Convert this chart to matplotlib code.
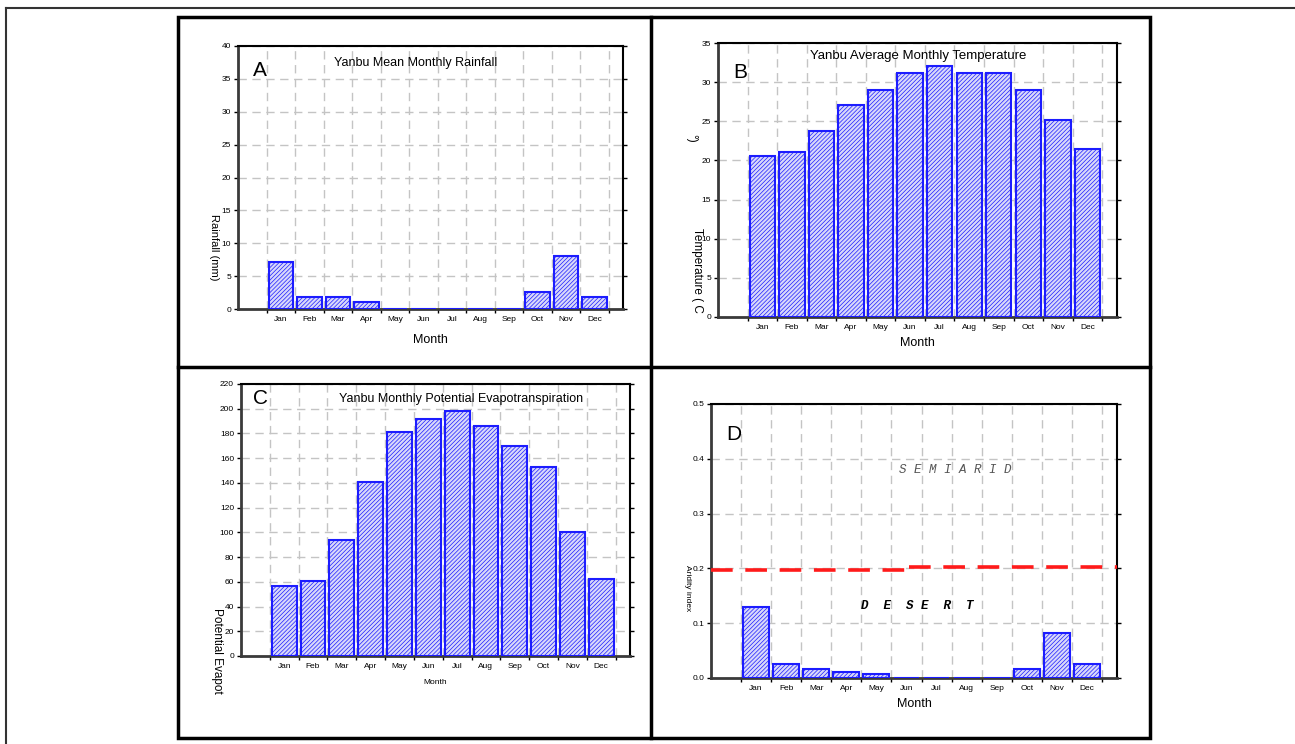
import matplotlib
matplotlib.use("Agg")
import matplotlib.pyplot as plt
from matplotlib.lines import Line2D
from matplotlib.patches import Rectangle
import numpy as np

plt.rcParams['font.family'] = ['Liberation Sans', 'DejaVu Sans']
plt.rcParams['hatch.color'] = '#5a5af0'
plt.rcParams['hatch.linewidth'] = 0.5

months = ["Jan", "Feb", "Mar", "Apr", "May", "Jun", "Jul", "Aug", "Sep", "Oct", "Nov", "Dec"]
rainfall = [7.1, 1.9, 1.9, 1.0, 0, 0, 0, 0, 0, 2.6, 8.1, 1.9]
temperature = [20.6, 21.1, 23.7, 27.1, 29.0, 31.2, 32.0, 31.2, 31.2, 29.0, 25.2, 21.5]
pet = [57, 60.5, 93.5, 141, 181.5, 191.5, 198, 186, 170, 153, 100, 62.5]
aridity = [0.130, 0.026, 0.016, 0.011, 0.007, 0, 0, 0, 0, 0.016, 0.082, 0.026]
limit_left, limit_right = 0.197, 0.202

W, H = 1295, 744
fig = plt.figure(figsize=(W / 100, H / 100), dpi=100)
fig.patch.set_facecolor('white')


def fx(x):
    return x / W


def fy(y):
    return 1 - y / H


def make_axes(l, t, r, b):
    return fig.add_axes([fx(l), fy(b), fx(r) - fx(l), fy(t) - fy(b)])


BAR_FACE = '#d8d8fa'
BAR_EDGE = '#1c1cff'
GRID = '#c4c4c4'


def style(ax, values, ymax, ystep, fmt, tick_fs=6):
    x = np.arange(len(values)) + 0.5
    ax.bar(x, values, width=0.86, facecolor=BAR_FACE, edgecolor=BAR_EDGE,
           linewidth=1.5, hatch='////////', zorder=3)
    ax.set_xlim(-1, 12.5)
    ax.set_ylim(0, ymax)
    ax.set_xticks(x)
    ax.set_xticklabels(months, fontsize=tick_fs)
    ax.set_xticks(np.arange(0, 13), minor=True)
    ax.tick_params(axis='x', which='major', length=0, pad=5)
    ax.tick_params(axis='x', which='minor', length=3, direction='out', width=1)
    yt = np.arange(0, ymax + ystep / 2, ystep)
    ax.set_yticks(yt)
    ax.set_yticklabels([fmt.format(v) for v in yt], fontsize=tick_fs)
    ax.tick_params(axis='y', length=3, width=1, direction='out', right=True, pad=2)
    ax.grid(True, which='minor', axis='x', color=GRID, linestyle=(0, (6, 4)), linewidth=1, zorder=0)
    ax.grid(True, which='major', axis='y', color=GRID, linestyle=(0, (6, 4)), linewidth=1, zorder=0)
    ax.grid(False, which='major', axis='x')
    for s in ['top', 'right']:
        ax.spines[s].set_color('black')
        ax.spines[s].set_linewidth(1.5)
    for s in ['left', 'bottom']:
        ax.spines[s].set_color('#3a3a3a')
        ax.spines[s].set_linewidth(2)
    ax.set_axisbelow(True)


# Panel A
axA = make_axes(238, 46, 623, 309)
style(axA, rainfall, 40, 5, "{:.0f}")
fig.text(fx(260), fy(70), "A", fontsize=15, ha='center', va='center')
fig.text(fx(416), fy(63), "Yanbu Mean Monthly Rainfall", fontsize=9, ha='center', va='center')
fig.text(fx(430), fy(340), "Month", fontsize=9, ha='center', va='center')
fig.text(fx(214), fy(247), "Rainfall (mm)", fontsize=8, rotation=270, ha='center', va='center')

# Panel B
axB = make_axes(718, 43, 1117, 317)
style(axB, temperature, 35, 5, "{:.0f}")
fig.text(fx(740), fy(73), "B", fontsize=15, ha='center', va='center')
fig.text(fx(918), fy(56), "Yanbu Average Monthly Temperature", fontsize=9.5, ha='center', va='center')
fig.text(fx(917), fy(343), "Month", fontsize=9, ha='center', va='center')
fig.text(fx(697), fy(270), "Temperature ( C", fontsize=8.5, rotation=270, ha='center', va='center')
fig.text(fx(691), fy(138), "°)", fontsize=8.5, rotation=270, ha='center', va='center')

# Panel C
axC = make_axes(241, 384, 630, 656)
style(axC, pet, 220, 20, "{:.0f}")
fig.text(fx(261), fy(399), "C", fontsize=15, ha='center', va='center')
fig.text(fx(461), fy(399), "Yanbu Monthly Potential Evapotranspiration", fontsize=9, ha='center', va='center')
fig.text(fx(435), fy(683), "Month", fontsize=6, ha='center', va='center')
fig.text(fx(217), fy(608), "Potential Evapot", fontsize=8.5, rotation=270, ha='center', va='top')

# Panel D
axD = make_axes(711, 404, 1117, 678)
style(axD, aridity, 0.5, 0.1, "{:.1f}")
axD.plot([-1, 5.6], [limit_left, limit_left], color='#ff1a1a', linewidth=2.6,
         linestyle=(0, (6, 3.5)), zorder=4, clip_on=False)
axD.plot([5.6, 12.5], [limit_right, limit_right], color='#ff1a1a', linewidth=2.6,
         linestyle=(0, (6, 3.5)), zorder=4, clip_on=False)
fig.text(fx(734), fy(435), "D", fontsize=15, ha='center', va='center')
fig.text(fx(955), fy(470), "S E M I A R I D", fontsize=9, ha='center', va='center',
         family=['Liberation Mono', 'DejaVu Sans Mono'], style='italic', color='#555555')
fig.text(fx(917), fy(606), "D  E  S E  R  T", fontsize=9, ha='center', va='center',
         family=['Liberation Mono', 'DejaVu Sans Mono'], style='italic', weight='bold', color='black')
fig.text(fx(914), fy(704), "Month", fontsize=9, ha='center', va='center')
fig.text(fx(687), fy(588), "Aridity index", fontsize=6, rotation=270, ha='center', va='center')

# Frames
fig.add_artist(Line2D([fx(6), fx(1295)], [fy(8), fy(8)], transform=fig.transFigure,
                      color='#333333', linewidth=1.5))
fig.add_artist(Line2D([fx(6), fx(6)], [fy(8), fy(744)], transform=fig.transFigure,
                      color='#333333', linewidth=1.5))
fig.add_artist(Rectangle((fx(178), fy(738)), fx(1150) - fx(178), fy(17) - fy(738),
                         transform=fig.transFigure, fill=False, edgecolor='black', linewidth=2.5))
fig.add_artist(Line2D([fx(651), fx(651)], [fy(17), fy(738)], transform=fig.transFigure,
                      color='black', linewidth=2.5))
fig.add_artist(Line2D([fx(178), fx(1150)], [fy(367), fy(367)], transform=fig.transFigure,
                      color='black', linewidth=2.5))

fig.savefig("out.png", dpi=100, facecolor='white')
